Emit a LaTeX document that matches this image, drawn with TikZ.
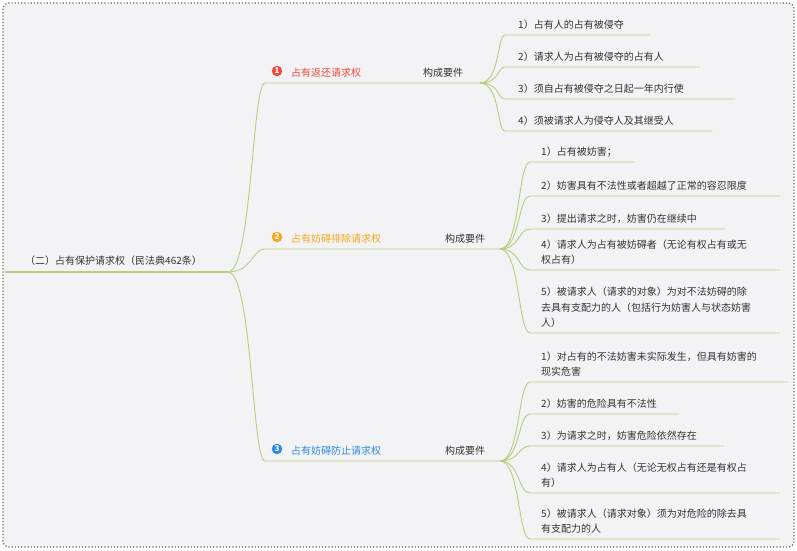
\documentclass[tikz,border=0pt]{standalone}
\usepackage{fontspec}
\setmainfont{Noto Sans CJK SC}
\usetikzlibrary{calc}
\definecolor{ln}{HTML}{B5CF7E}
\definecolor{bg}{HTML}{F3F3F5}
\definecolor{rd}{HTML}{F04A3A}
\definecolor{og}{HTML}{F5A81C}
\definecolor{bl}{HTML}{2E8AE6}
\tikzset{
 lbl/.style={anchor=south west,inner sep=0pt,font=\fontsize{10}{15.5}\selectfont,text=black!80,align=left},
 edge/.style={draw=ln,line width=0.9pt},
 num/.style={circle,fill=#1,text=white,inner sep=0pt,minimum size=10.5pt,font=\fontsize{8}{8}\selectfont\bfseries}
}
\begin{document}
\begin{tikzpicture}[x=1pt,y=-1pt]
\useasboundingbox (0,0) rectangle (797,550);
\draw[black!60,dotted,line width=1.2pt,fill=bg,rounded corners=6pt] (3,3) rectangle (794,547);
% root
\node[lbl] (root) at (25,266) {（二）占有保护请求权（民法典462条）};
\coordinate (r0) at (5,272); \coordinate (r1) at (228,272);
\draw[edge,line width=1.2pt] (r0)--(r1);
% branches
\foreach \n/\y/\c/\t/\jx in {1/83/rd/占有返还请求权/480, 2/249/og/占有妨碍排除请求权/500, 3/461/bl/占有妨碍防止请求权/500}{
  \coordinate (b\n) at (265,\y);
  \coordinate (j\n) at (\jx,\y);
  \draw[edge] (r1) .. controls (252,272) and (252,\y) .. (b\n) -- (j\n);
  \node[num=\c] (n\n) at (277,\y-12) {\n};
  \node[lbl,text=\c] (t\n) at (291,\y-5) {\t};
}
\node[lbl] (k1) at (423,78) {构成要件};
\node[lbl] (k2) at (445,244) {构成要件};
\node[lbl] (k3) at (445,456) {构成要件};
% leaves branch 1
\foreach \i/\y/\e/\t in {1/35/650/1）占有人的占有被侵夺, 2/67/700/2）请求人为占有被侵夺的占有人, 3/99/735/3）须自占有被侵夺之日起一年内行使, 4/131/712/4）须被请求人为侵夺人及其继受人}{
  \coordinate (a\i) at (505,\y); \coordinate (ae\i) at (\e,\y);
  \draw[edge] (j1) .. controls (500,83) and (497,\y) .. (a\i) -- (ae\i);
  \node[lbl] (la\i) at (518,\y-5) {\t};
}
% leaves branch 2
\foreach \i/\y/\e/\t in {1/162/635/1）占有被妨害；, 2/196/780/2）妨害具有不法性或者超越了正常的容忍限度, 3/229/725/3）提出请求之时，妨害仍在继续中, 4/270/780/{4）请求人为占有被妨碍者（无论有权占有或无\\权占有）}, 5/333/780/{5）被请求人（请求的对象）为对不法妨碍的除\\去具有支配力的人（包括行为妨害人与状态妨害\\人）}}{
  \coordinate (c\i) at (530,\y); \coordinate (ce\i) at (\e,\y);
  \draw[edge] (j2) .. controls (520,249) and (518,\y) .. (c\i) -- (ce\i);
  \node[lbl] (lc\i) at (541,\y-5) {\t};
}
% leaves branch 3
\foreach \i/\y/\e/\t in {1/382/788/{1）对占有的不法妨害未实际发生，但具有妨害的\\现实危害}, 2/414/679/2）妨害的危险具有不法性, 3/446/724/3）为请求之时，妨害危险依然存在, 4/493/780/{4）请求人为占有人（无论无权占有还是有权占\\有）}, 5/539/780/{5）被请求人（请求对象）须为对危险的除去具\\有支配力的人}}{
  \coordinate (d\i) at (530,\y); \coordinate (de\i) at (\e,\y);
  \draw[edge] (j3) .. controls (520,461) and (518,\y) .. (d\i) -- (de\i);
  \node[lbl] (ld\i) at (541,\y-5) {\t};
}
\end{tikzpicture}
\end{document}
